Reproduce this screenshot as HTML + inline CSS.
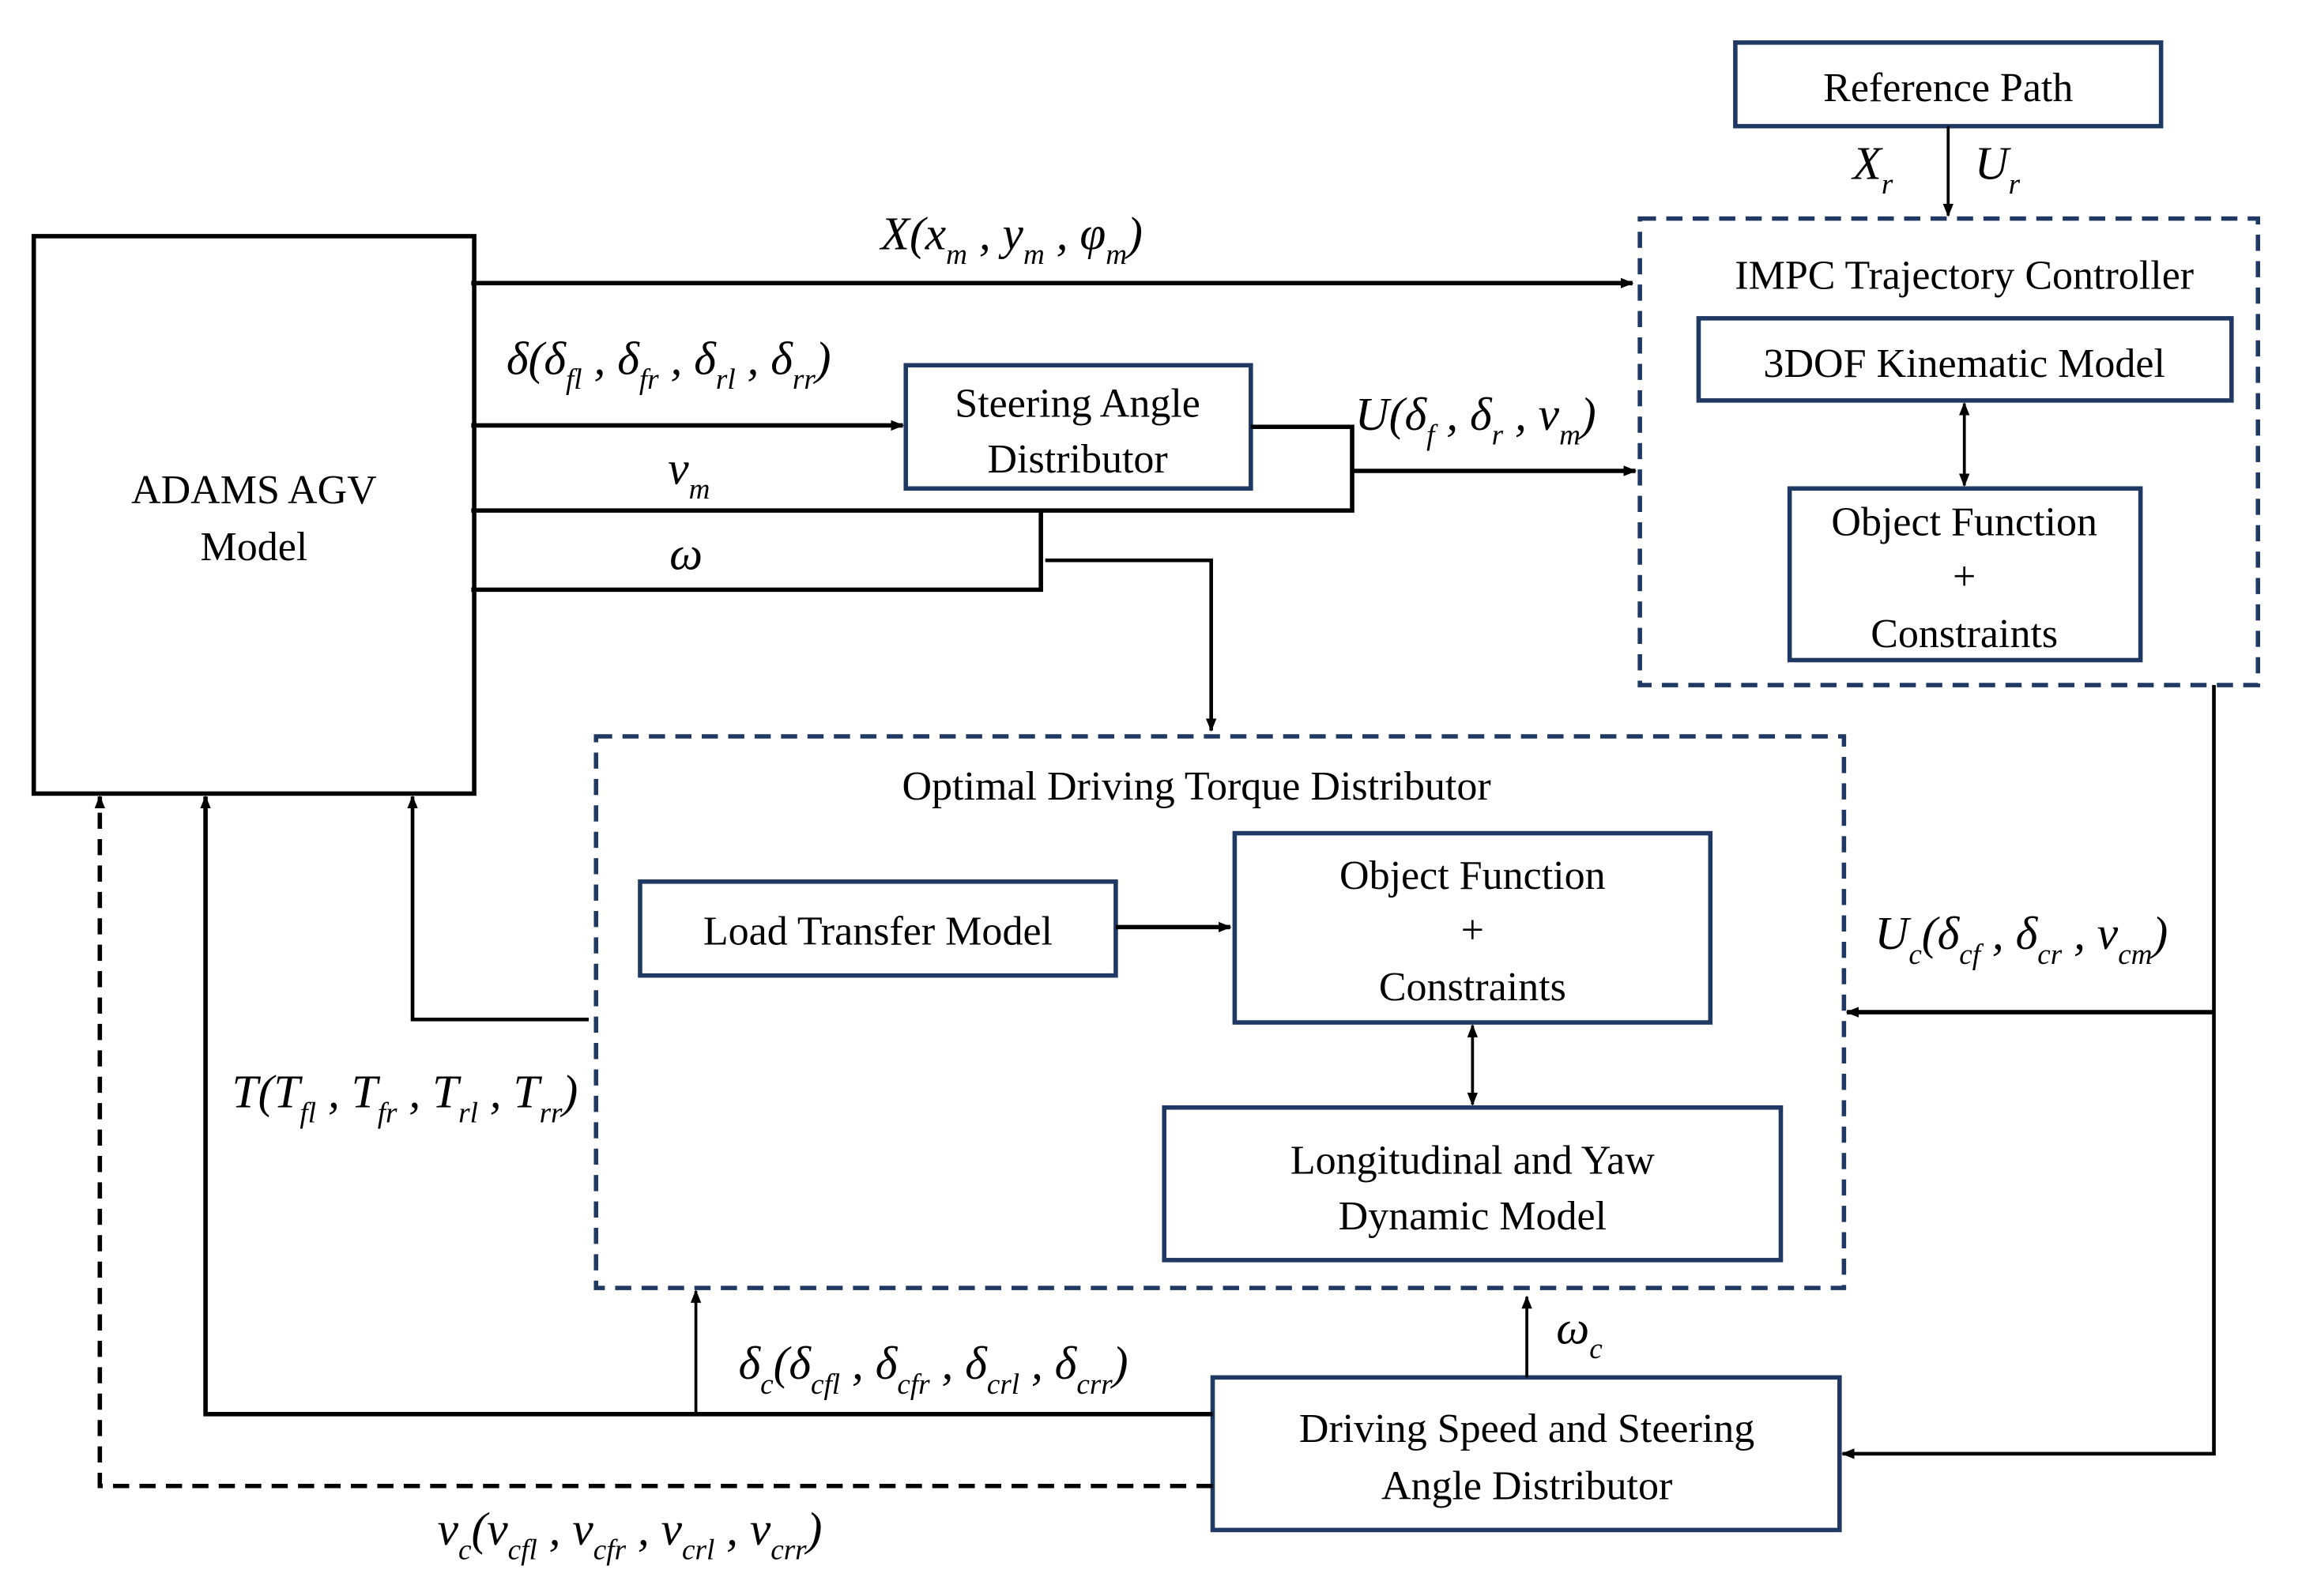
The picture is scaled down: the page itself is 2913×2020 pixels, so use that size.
<!DOCTYPE html>
<html><head><meta charset="utf-8"><style>
html,body{margin:0;padding:0;background:#fff;}
svg{display:block;}
text{font-family:"Liberation Serif",serif;fill:#000;}
.t{font-size:28px;text-anchor:middle;}
.m{font-size:32px;font-style:italic;}
.s{font-size:20px;}
</style></head><body>
<svg width="2913" height="2020" viewBox="0 0 1568 1088" preserveAspectRatio="none" xmlns="http://www.w3.org/2000/svg">
<defs>
<marker id="a" viewBox="0 0 10 10" refX="9" refY="5" markerWidth="9" markerHeight="9" markerUnits="userSpaceOnUse" orient="auto-start-reverse"><path d="M0,1 L10,5 L0,9 Z" fill="#000"/></marker>
</defs>
<g fill="none" stroke="#1f3864" stroke-width="3">
<rect x="1182" y="29" width="290" height="57"/>
<rect x="1157" y="217" width="363" height="56"/>
<rect x="1219" y="333" width="239" height="117"/>
<rect x="617" y="249" width="235" height="84"/>
<rect x="436" y="601" width="324" height="64"/>
<rect x="841" y="568" width="324" height="129"/>
<rect x="793" y="755" width="420" height="104"/>
<rect x="826" y="939" width="427" height="104"/>
<g stroke-dasharray="11,7">
<rect x="1117" y="149" width="421" height="318"/>
<rect x="406" y="502" width="850" height="376"/>
</g>
</g>
<rect x="23" y="161" width="300" height="380" fill="none" stroke="#000" stroke-width="3"/>
<g stroke="#000" fill="none">
<line x1="1327" y1="86" x2="1327" y2="147" stroke-width="2" marker-end="url(#a)"/>
<line x1="321" y1="193" x2="1112" y2="193" stroke-width="3" marker-end="url(#a)"/>
<line x1="321" y1="290" x2="615" y2="290" stroke-width="3" marker-end="url(#a)"/>
<polyline points="852,291 921,291 921,348 321,348" stroke-width="3"/>
<line x1="921" y1="321" x2="1114" y2="321" stroke-width="3" marker-end="url(#a)"/>
<polyline points="709,348 709,402 321,402" stroke-width="3"/>
<polyline points="712,382 825,382 825,498" stroke-width="2.5" marker-end="url(#a)"/>
<line x1="1338" y1="275" x2="1338" y2="331" stroke-width="2" marker-start="url(#a)" marker-end="url(#a)"/>
<line x1="760" y1="632" x2="838" y2="632" stroke-width="3" marker-end="url(#a)"/>
<line x1="1003" y1="699" x2="1003" y2="753" stroke-width="2" marker-start="url(#a)" marker-end="url(#a)"/>
<polyline points="401,695 281,695 281,543" stroke-width="2.5" marker-end="url(#a)"/>
<polyline points="1508,467 1508,991 1255,991" stroke-width="2.5" marker-end="url(#a)"/>
<line x1="1508" y1="690" x2="1258" y2="690" stroke-width="3" marker-end="url(#a)"/>
<line x1="1040" y1="939" x2="1040" y2="884" stroke-width="2" marker-end="url(#a)"/>
<polyline points="826,964 140,964 140,543" stroke-width="3" marker-end="url(#a)"/>
<line x1="474" y1="964" x2="474" y2="880" stroke-width="2" marker-end="url(#a)"/>
<polyline points="826,1013 68,1013 68,543" stroke-width="3" stroke-dasharray="11,7" marker-end="url(#a)"/>
</g>
<text class="t" x="1327" y="69">Reference Path</text>
<text class="t" x="1338" y="197">IMPC Trajectory Controller</text>
<text class="t" x="1338" y="257">3DOF Kinematic Model</text>
<text class="t" x="1338" y="365">Object Function</text>
<text class="t" x="1338" y="402">+</text>
<text class="t" x="1338" y="441">Constraints</text>
<text class="t" x="173" y="343">ADAMS AGV</text>
<text class="t" x="173" y="382">Model</text>
<text class="t" x="734" y="284">Steering Angle</text>
<text class="t" x="734" y="322">Distributor</text>
<text class="t" x="815" y="545">Optimal Driving Torque Distributor</text>
<text class="t" x="598" y="644">Load Transfer Model</text>
<text class="t" x="1003" y="606">Object Function</text>
<text class="t" x="1003" y="643">+</text>
<text class="t" x="1003" y="682">Constraints</text>
<text class="t" x="1003" y="800">Longitudinal and Yaw</text>
<text class="t" x="1003" y="838">Dynamic Model</text>
<text class="t" x="1040" y="983">Driving Speed and Steering</text>
<text class="t" x="1040" y="1022">Angle Distributor</text>
<text class="m" x="1262" y="122">X<tspan class="s" dy="10">r</tspan></text>
<text class="m" x="1345" y="122">U<tspan class="s" dy="10">r</tspan></text>
<text class="m" x="600" y="170">X(x<tspan class="s" dy="10">m</tspan><tspan dy="-10"> , y</tspan><tspan class="s" dy="10">m</tspan><tspan dy="-10"> , φ</tspan><tspan class="s" dy="10">m</tspan><tspan dy="-10">)</tspan></text>
<text class="m" x="345" y="255">δ(δ<tspan class="s" dy="10">fl</tspan><tspan dy="-10"> , δ</tspan><tspan class="s" dy="10">fr</tspan><tspan dy="-10"> , δ</tspan><tspan class="s" dy="10">rl</tspan><tspan dy="-10"> , δ</tspan><tspan class="s" dy="10">rr</tspan><tspan dy="-10">)</tspan></text>
<text class="m" x="923" y="293">U(δ<tspan class="s" dy="10">f</tspan><tspan dy="-10"> , δ</tspan><tspan class="s" dy="10">r</tspan><tspan dy="-10"> , v</tspan><tspan class="s" dy="10">m</tspan><tspan dy="-10">)</tspan></text>
<text class="m" x="455" y="330">v<tspan class="s" dy="10">m</tspan></text>
<text class="m" x="456" y="388">ω</text>
<text class="m" x="158" y="755">T(T<tspan class="s" dy="10">fl</tspan><tspan dy="-10"> , T</tspan><tspan class="s" dy="10">fr</tspan><tspan dy="-10"> , T</tspan><tspan class="s" dy="10">rl</tspan><tspan dy="-10"> , T</tspan><tspan class="s" dy="10">rr</tspan><tspan dy="-10">)</tspan></text>
<text class="m" x="1277" y="647">U<tspan class="s" dy="10">c</tspan><tspan dy="-10">(δ</tspan><tspan class="s" dy="10">cf</tspan><tspan dy="-10"> , δ</tspan><tspan class="s" dy="10">cr</tspan><tspan dy="-10"> , v</tspan><tspan class="s" dy="10">cm</tspan><tspan dy="-10">)</tspan></text>
<text class="m" x="1060" y="916">ω<tspan class="s" dy="10">c</tspan></text>
<text class="m" x="503" y="940">δ<tspan class="s" dy="10">c</tspan><tspan dy="-10">(δ</tspan><tspan class="s" dy="10">cfl</tspan><tspan dy="-10"> , δ</tspan><tspan class="s" dy="10">cfr</tspan><tspan dy="-10"> , δ</tspan><tspan class="s" dy="10">crl</tspan><tspan dy="-10"> , δ</tspan><tspan class="s" dy="10">crr</tspan><tspan dy="-10">)</tspan></text>
<text class="m" x="298" y="1053">v<tspan class="s" dy="10">c</tspan><tspan dy="-10">(v</tspan><tspan class="s" dy="10">cfl</tspan><tspan dy="-10"> , v</tspan><tspan class="s" dy="10">cfr</tspan><tspan dy="-10"> , v</tspan><tspan class="s" dy="10">crl</tspan><tspan dy="-10"> , v</tspan><tspan class="s" dy="10">crr</tspan><tspan dy="-10">)</tspan></text>
</svg>
</body></html>
